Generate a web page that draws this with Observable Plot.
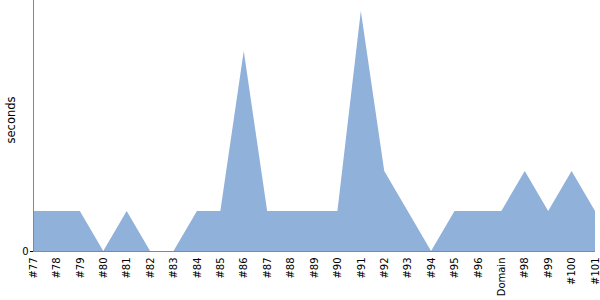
<!DOCTYPE html>
<html>
<head>
<meta charset="utf-8">
<script src="https://cdn.jsdelivr.net/npm/d3@7"></script>
<script src="https://cdn.jsdelivr.net/npm/@observablehq/plot@0.6"></script>
<style>
  html, body { margin: 0; padding: 0; background: #fff; }
  #chart svg { display: block; }
</style>
</head>
<body>
<div id="chart"></div>
<script>
const categories = ["#77","#78","#79","#80","#81","#82","#83","#84","#85","#86","#87","#88","#89","#90","#91","#92","#93","#94","#95","#96","Domain","#98","#99","#100","#101"];
const seconds = [1,1,1,0,1,0,0,1,1,5,1,1,1,1,6,2,1,0,1,1,1,2,1,2,1];
const yTicks = [0];
const yLabel = "seconds";

const data = categories.map((c, i) => ({cat: c, v: seconds[i]}));

const chart = Plot.plot({
  width: 600,
  height: 300,
  marginLeft: 33,
  marginRight: 5,
  marginTop: 0,
  marginBottom: 49,
  style: {fontFamily: "DejaVu Sans", fontSize: "10px", color: "#000", background: "#fff"},
  x: {type: "point", domain: categories, padding: 0, round: false},
  y: {domain: [0, 6.275]},
  marks: [
    Plot.areaY(data, {x: "cat", y: "v", fill: "#8fb1da", curve: "linear"}),
    Plot.axisX({tickSize: 0, tickPadding: 6, tickRotate: -90, label: null, fontSize: 10}),
    Plot.axisY({ticks: yTicks, tickSize: 3, tickPadding: 2, tickFormat: d => String(d), label: null, fontSize: 10}),
    Plot.text([yLabel], {frameAnchor: "left", textAnchor: "middle", rotate: -90, dx: -22, dy: -6, fontSize: 11.5}),
    Plot.ruleY([0], {stroke: "#888"}),
    Plot.frame({anchor: "left", stroke: "#888"})
  ]
});
document.getElementById("chart").appendChild(chart);
</script>
</body>
</html>
